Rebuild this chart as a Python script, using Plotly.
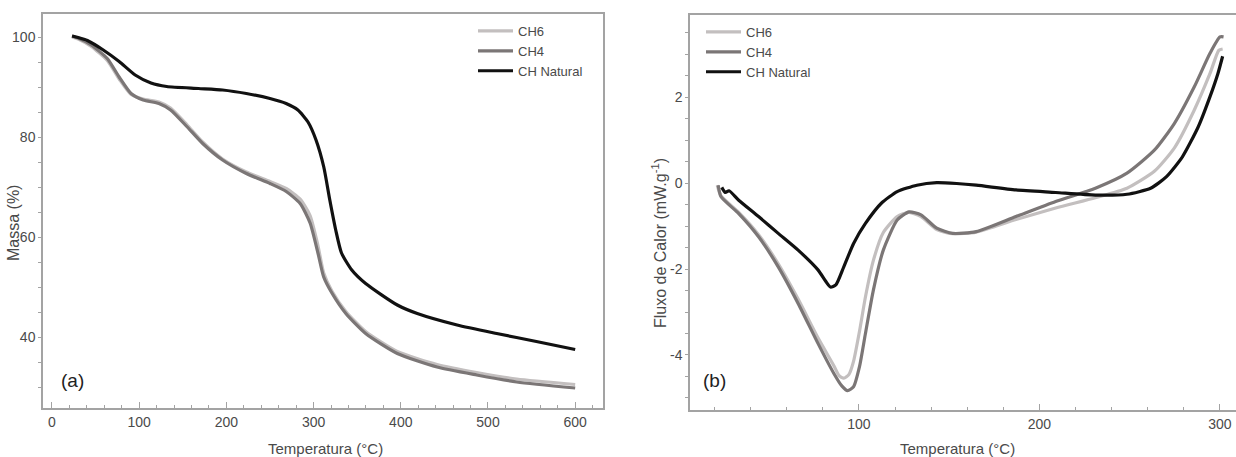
import plotly.graph_objects as go

# ---------------- data: TGA (left) ----------------
tga_T_nat = [23, 30, 40.6, 58.8, 77, 95.4, 113.5, 131.6, 168, 195.6, 222.9, 250, 268.5, 282,
             293.6, 302.8, 311.7, 318.6, 325.4, 332, 343.8, 359.7, 396, 418.9, 464.6, 510, 555.5, 600]
tga_m_nat = [100.2, 99.9, 99.3, 97.4, 95.1, 92.4, 90.8, 90.1, 89.7, 89.4, 88.7, 87.7, 86.7, 85.4,
             83.0, 79.4, 74.0, 67.4, 61.4, 56.8, 53.4, 50.7, 46.4, 44.7, 42.4, 40.7, 39.1, 37.5]

tga_T_ch = [23, 30, 45, 63.4, 77, 90.7, 104.6, 122.6, 136, 154.6, 172.8, 195.6, 222.9, 250,
            268.6, 284.6, 296, 305, 311.6, 321, 337, 359.7, 396, 441.6, 487, 533, 600]
tga_m_ch4 = [100.2, 99.8, 98.4, 95.7, 92.0, 88.7, 87.4, 86.7, 85.4, 82.1, 78.7, 75.4, 72.7, 70.7,
             69.1, 66.7, 62.8, 56.8, 52.0, 48.8, 44.7, 40.7, 36.7, 34.0, 32.4, 31.0, 29.8]
tga_m_ch6 = [100.0, 99.6, 98.1, 95.3, 91.6, 88.5, 87.6, 87.0, 85.8, 82.5, 79.0, 75.6, 73.0, 71.1,
             69.7, 67.6, 64.3, 58.3, 52.8, 49.2, 45.1, 41.1, 37.1, 34.5, 32.9, 31.6, 30.5]

# ---------------- data: DSC (right) ----------------
dsc_T_nat = [24, 26, 28, 33.4, 44.4, 55.3, 66.3, 77.3, 81.5, 84.2, 87.2, 91.6, 97.1, 103.6, 112.4,
             121.2, 132.1, 143.1, 154.1, 165, 187, 209, 231, 248.5, 261.6, 270.4, 279.2, 288,
             294.5, 298.9, 301.5]
dsc_v_nat = [-0.10, -0.22, -0.18, -0.40, -0.78, -1.17, -1.56, -2.02, -2.28, -2.42, -2.37, -1.95,
             -1.40, -0.94, -0.47, -0.20, -0.05, 0.01, -0.01, -0.05, -0.16, -0.22, -0.28, -0.26,
             -0.12, 0.15, 0.61, 1.31, 2.01, 2.55, 2.95]

dsc_T_ch4 = [22, 23.6, 33.4, 44.4, 55.3, 66.3, 77.3, 86.1, 90.5, 93.7, 97, 100.3, 103.6, 108, 113.5,
             121.2, 127.8, 134.4, 143.1, 152, 165, 187, 209, 231, 248.5, 263.8, 274.8, 285.8,
             294.5, 300, 302]
dsc_v_ch4 = [-0.05, -0.32, -0.71, -1.25, -1.95, -2.80, -3.73, -4.43, -4.72, -4.83, -4.74, -4.27,
             -3.50, -2.49, -1.56, -0.86, -0.67, -0.74, -1.05, -1.17, -1.13, -0.78, -0.43, -0.12,
             0.23, 0.77, 1.39, 2.24, 3.02, 3.40, 3.40]

dsc_T_ch6 = [21.5, 23.6, 33.4, 44.4, 55.3, 66.3, 77.3, 86.1, 89, 91.6, 94.5, 97, 100.3, 103.6, 108,
             113.5, 121.2, 127.8, 134.4, 143.1, 152, 165, 187, 209, 231, 248.5, 263.8, 274.8,
             285.8, 294.5, 299.4, 301.5]
dsc_v_ch6 = [-0.05, -0.30, -0.68, -1.20, -1.88, -2.70, -3.60, -4.25, -4.48, -4.54, -4.45, -4.15,
             -3.45, -2.65, -1.80, -1.15, -0.78, -0.68, -0.78, -1.08, -1.18, -1.14, -0.85, -0.58,
             -0.34, -0.12, 0.28, 0.82, 1.70, 2.55, 3.09, 3.12]

series_names = ["CH6", "CH4", "CH Natural"]
left_xticks = [0, 100, 200, 300, 400, 500, 600]
left_yticks = [40, 60, 80, 100]
right_xticks = [100, 200, 300]
right_yticks = [-4, -2, 0, 2]
right_yticklabels = ["-4", "-2", "0", "2"]

# ---------------- style ----------------
C_CH6 = "#c3bfbf"
C_CH4 = "#7b7676"
C_NAT = "#111111"
AX = "#a3a3a3"
TXT = "#4a4a4a"
SANS = "Liberation Sans, Arial, sans-serif"
W, H = 1236, 457

def px_x(p):
    return p / W

def px_y(p):
    return 1 - p / H

fig = go.Figure()

left = [(tga_T_ch, tga_m_ch6, C_CH6), (tga_T_ch, tga_m_ch4, C_CH4), (tga_T_nat, tga_m_nat, C_NAT)]
right = [(dsc_T_ch6, dsc_v_ch6, C_CH6), (dsc_T_ch4, dsc_v_ch4, C_CH4), (dsc_T_nat, dsc_v_nat, C_NAT)]

for (x, y, c), name in zip(left, series_names):
    fig.add_trace(go.Scatter(x=x, y=y, mode="lines", name=name, legend="legend",
                             line=dict(color=c, width=3.2, shape="spline", smoothing=0.6),
                             xaxis="x", yaxis="y"))
for (x, y, c), name in zip(right, series_names):
    fig.add_trace(go.Scatter(x=x, y=y, mode="lines", name=name, legend="legend2",
                             line=dict(color=c, width=3.2, shape="spline", smoothing=0.6),
                             xaxis="x2", yaxis="y2"))

common_ax = dict(showgrid=False, zeroline=False, showline=True, linecolor=AX, linewidth=1.5,
                 tickcolor=AX, tickwidth=1, tickfont=dict(family=SANS, size=14, color=TXT))

fig.update_layout(
    width=W, height=H,
    margin=dict(l=0, r=0, t=0, b=0),
    paper_bgcolor="white", plot_bgcolor="white",
    showlegend=True,
    xaxis=dict(domain=[px_x(43), px_x(603)], range=[-10.3, 631.9], anchor="y",
               tickvals=left_xticks, ticks="inside", ticklen=6,
               minor=dict(dtick=20, tick0=0, ticks="inside", ticklen=3, tickcolor=AX),
               mirror=True, **common_ax),
    yaxis=dict(domain=[px_y(408), px_y(14)], range=[25.8, 104.6], anchor="x",
               tickvals=left_yticks, ticks="outside", ticklen=3,
               minor=dict(dtick=5, tick0=0, ticks="outside", ticklen=3, tickcolor=AX),
               mirror=True, **common_ax),
    xaxis2=dict(domain=[px_x(690), 1.0], range=[6.4, 308.9], anchor="y2",
                tickvals=right_xticks, ticks="inside", ticklen=6,
                minor=dict(dtick=20, tick0=0, ticks="inside", ticklen=3, tickcolor=AX),
                mirror=True, **common_ax),
    yaxis2=dict(domain=[px_y(410), px_y(15)], range=[-5.28, 3.91], anchor="x2",
                tickvals=right_yticks, ticktext=right_yticklabels, ticks="outside", ticklen=3,
                minor=dict(dtick=0.5, tick0=0, ticks="outside", ticklen=3, tickcolor=AX),
                mirror=False, **common_ax),
    legend=dict(x=px_x(473), y=px_y(16), xanchor="left", yanchor="top",
                bgcolor="rgba(0,0,0,0)", borderwidth=0, itemwidth=35,
                font=dict(family=SANS, size=13, color=TXT), tracegroupgap=0),
    legend2=dict(x=px_x(701), y=px_y(17), xanchor="left", yanchor="top",
                 bgcolor="rgba(0,0,0,0)", borderwidth=0, itemwidth=35,
                 font=dict(family=SANS, size=13, color=TXT), tracegroupgap=0),
)

ann = [
    dict(text="Massa (%)", x=px_x(14), y=px_y(223), textangle=-90,
         font=dict(family=SANS, size=16, color=TXT)),
    dict(text="Temperatura (°C)", x=px_x(325), y=px_y(448),
         font=dict(family=SANS, size=15, color=TXT)),
    dict(text="Temperatura (°C)", x=px_x(957), y=px_y(448),
         font=dict(family=SANS, size=15, color=TXT)),
    dict(text="Fluxo de Calor (mW.g<sup>-1</sup>)", x=px_x(659), y=px_y(243), textangle=-90,
         font=dict(family=SANS, size=16, color=TXT)),
    dict(text="(a)", x=px_x(72), y=px_y(380), font=dict(family=SANS, size=19, color="#222222")),
    dict(text="(b)", x=px_x(714), y=px_y(380), font=dict(family=SANS, size=19, color="#222222")),
]
for a in ann:
    fig.add_annotation(xref="paper", yref="paper", showarrow=False, xanchor="center",
                       yanchor="middle", **a)

fig.write_html("out.html", config={"displayModeBar": False},
               post_script="document.body.style.margin='0px';")
